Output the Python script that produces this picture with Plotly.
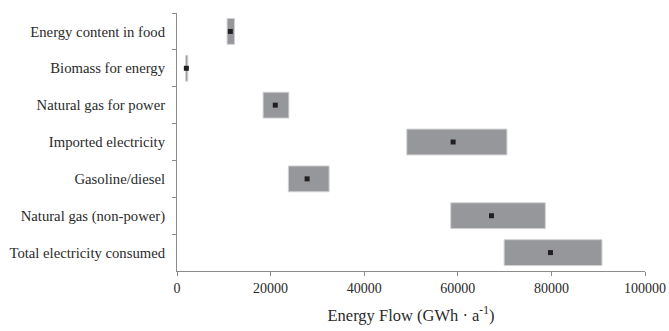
import plotly.graph_objects as go

categories = ["Energy content in food", "Biomass for energy", "Natural gas for power",
              "Imported electricity", "Gasoline/diesel", "Natural gas (non-power)",
              "Total electricity consumed"]
low = [10700, 1850, 18400, 49100, 23800, 58500, 69900]
high = [12300, 2300, 23900, 70500, 32500, 78700, 90800]
mid = [11400, 2000, 21000, 59000, 27800, 67200, 79800]
x_ticks = [0, 20000, 40000, 60000, 80000, 100000]

span = [h - l for h, l in zip(high, low)]

fig = go.Figure()
fig.add_trace(go.Bar(
    y=categories, x=span, base=low, orientation="h", width=0.7,
    marker=dict(color="#96979b", line=dict(color="#d0d0d2", width=1)),
    showlegend=False, hoverinfo="skip"))
fig.add_trace(go.Scatter(
    y=categories, x=mid, mode="markers",
    marker=dict(symbol="square", size=5, color="#231f20"),
    showlegend=False))

font_family = "Liberation Serif, Times New Roman, serif"
fig.update_layout(
    width=669, height=331,
    margin=dict(l=177, r=24, t=13, b=60),
    paper_bgcolor="white", plot_bgcolor="white",
    font=dict(family=font_family, size=14.7, color="#2a2a2a"),
    xaxis=dict(range=[0, 100000], tickvals=x_ticks, ticktext=[str(v) for v in x_ticks],
               automargin=False,
               showgrid=False, zeroline=False, showline=True, linecolor="#8c8c8c",
               linewidth=1, ticks="outside", ticklen=4, tickcolor="#8c8c8c",
               tickfont=dict(size=14),
               title=dict(text="Energy Flow (GWh · a<sup>-1</sup>)", standoff=14,
                          font=dict(size=16.5))),
    yaxis=dict(categoryorder="array", categoryarray=categories, autorange="reversed",
               automargin=False,
               showgrid=False, zeroline=False, showline=True, linecolor="#8c8c8c",
               linewidth=1, ticks="outside", ticklen=4, tickcolor="#8c8c8c",
               tickson="boundaries", ticklabelstandoff=8),
)
fig.write_html("out.html", config={"displayModeBar": False},
               post_script="document.body.style.margin='0px';")
